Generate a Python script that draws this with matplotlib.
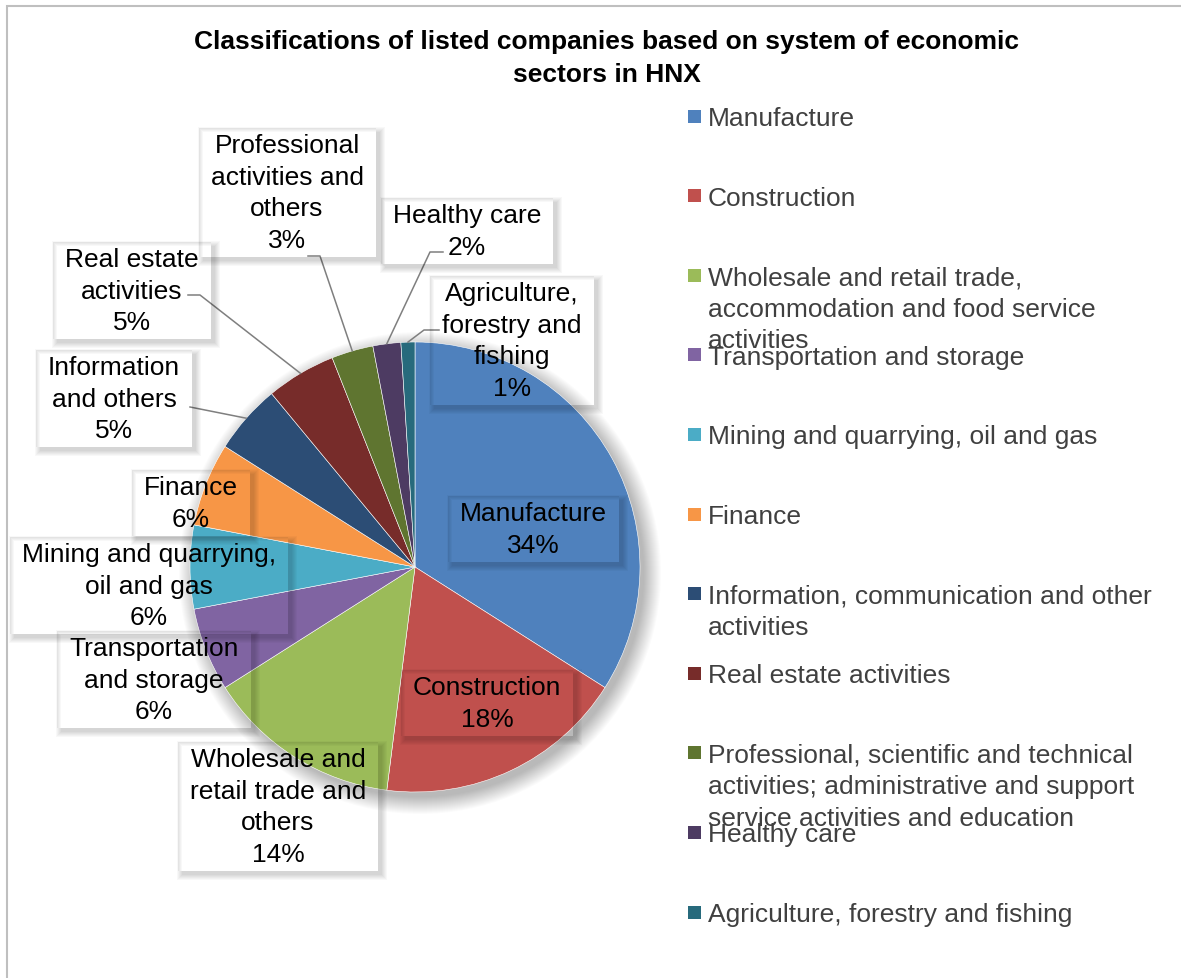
import numpy as np
import matplotlib.pyplot as plt
from matplotlib.patches import Rectangle, PathPatch, Circle
from matplotlib.path import Path

#---datos---#
sectores = ["Manufacture", "Construction", "Wholesale and\nretail trade and\nothers",
            "Transportation\nand storage", "Mining and quarrying,\noil and gas",
            "Finance", "Information\nand others", "Real estate\nactivities",
            "Professional\nactivities and\nothers", "Healthy care",
            "Agriculture,\nforestry and\nfishing"]
leyenda = ["Manufacture", "Construction",
           "Wholesale and retail trade,\naccommodation and food service\nactivities",
           "Transportation and storage", "Mining and quarrying, oil and gas", "Finance",
           "Information, communication and other\nactivities", "Real estate activities",
           "Professional, scientific and technical\nactivities; administrative and support\nservice activities and education",
           "Healthy care", "Agriculture, forestry and fishing"]
porcentajes = [34, 18, 14, 6, 6, 6, 5, 5, 3, 2, 1]
colores = ["#4F81BD", "#C0504D", "#9BBB59", "#8064A2", "#4BACC6", "#F79646",
           "#2C4D75", "#772C2A", "#5F7530", "#4D3B62", "#276A7C"]

#---layout en pixeles (y hacia abajo)---#
W, H = 1181, 979
centro = (415, 568)
radio = 225
# centro x y primera linea de cada etiqueta
pos_etiquetas = [(533, 512), (487, 686), (278, 758), (154, 647), (149, 553),
                 (191, 486), (114, 366), (132, 258), (287, 144), (467, 214), (512, 292)]
# lineas guia: indice -> puntos cerca de la caja
guias = {6: [(190, 408)], 7: [(188, 296), (200, 296)], 8: [(308, 257), (320, 257)],
         9: [(443, 253), (430, 253)], 10: [(439, 331), (424, 331)]}

plt.rcParams['font.family'] = ['Liberation Sans', 'DejaVu Sans']

fig = plt.figure(figsize=(W / 100, H / 100), dpi=100)
ax = fig.add_axes([0, 0, 1, 1])


def Y(y):
    return H - y


# marco
ax.add_patch(Rectangle((7, -20), W + 20, Y(7) + 20, fc='none', ec='#BFBFBF', lw=1.5, zorder=0))

# sombra del pie
cx, cy = centro[0], Y(centro[1])
for k in range(18):
    ax.add_patch(Circle((cx + 5, cy - 6), radio + 16 - k, fc='black', ec='none',
                        alpha=0.014, zorder=1))

wedges, _ = ax.pie(porcentajes, colors=colores, startangle=90, counterclock=False,
                   center=(cx, cy), radius=radio, frame=True,
                   wedgeprops=dict(edgecolor='white', linewidth=0.4))
for w in wedges:
    w.set_zorder(2)
ax.set_xlim(0, W)
ax.set_ylim(0, H)
ax.set_aspect('equal')
ax.axis('off')

# titulo
fig.text(607 / W, 1 - 30 / H, "Classifications of listed companies based on system of economic\nsectors in HNX",
         ha='center', va='top', fontsize=19, fontweight='bold', linespacing=1.45,
         multialignment='center')

# etiquetas de datos
textos = []
for i, nombre in enumerate(sectores):
    x, y = pos_etiquetas[i]
    t = ax.text(x, Y(y - 10), f"{nombre}\n{porcentajes[i]}%", ha='center', va='top',
                fontsize=19, color='black', linespacing=1.4, multialignment='center', zorder=5)
    textos.append(t)

fig.canvas.draw()
ren = fig.canvas.get_renderer()


def anillo(x0, y0, x1, y1, hx0, hy0, hx1, hy1):
    verts = [(x0, y0), (x1, y0), (x1, y1), (x0, y1), (x0, y0),
             (hx0, hy0), (hx0, hy1), (hx1, hy1), (hx1, hy0), (hx0, hy0)]
    codes = [Path.MOVETO, Path.LINETO, Path.LINETO, Path.LINETO, Path.CLOSEPOLY] * 2
    return Path(verts, codes)


# sombras de las cajas (sin relleno)
for t in textos:
    bb = t.get_window_extent(ren)
    bx0, by0, bx1, by1 = bb.x0 - 12, bb.y0 - 5, bb.x1 + 12, bb.y1 + 5
    for e in range(6):
        p = anillo(bx0 + 4 - e, by0 - 4 - e, bx1 + 4 + e, by1 - 4 + e, bx0, by0, bx1, by1)
        ax.add_patch(PathPatch(p, fc='black', ec='none', alpha=0.028, zorder=4))

# lineas guia
for i, pts in guias.items():
    w = wedges[i]
    ang = np.deg2rad((w.theta1 + w.theta2) / 2)
    ancla = (cx + radio * np.cos(ang), cy + radio * np.sin(ang))
    xs = [p[0] for p in pts] + [ancla[0]]
    ys = [Y(p[1]) for p in pts] + [ancla[1]]
    ax.plot(xs, ys, color='#7F7F7F', lw=1.1, zorder=3)

# leyenda
for i, nombre in enumerate(leyenda):
    yc = 117 + 79.6 * i
    ax.add_patch(Rectangle((688, Y(yc + 6.5)), 13, 13, fc=colores[i], ec='none', zorder=5))
    ax.text(708, Y(yc - 10), nombre, ha='left', va='top', fontsize=19, color='#404040',
            linespacing=1.4, zorder=5)

fig.savefig('out.png', dpi=100)
